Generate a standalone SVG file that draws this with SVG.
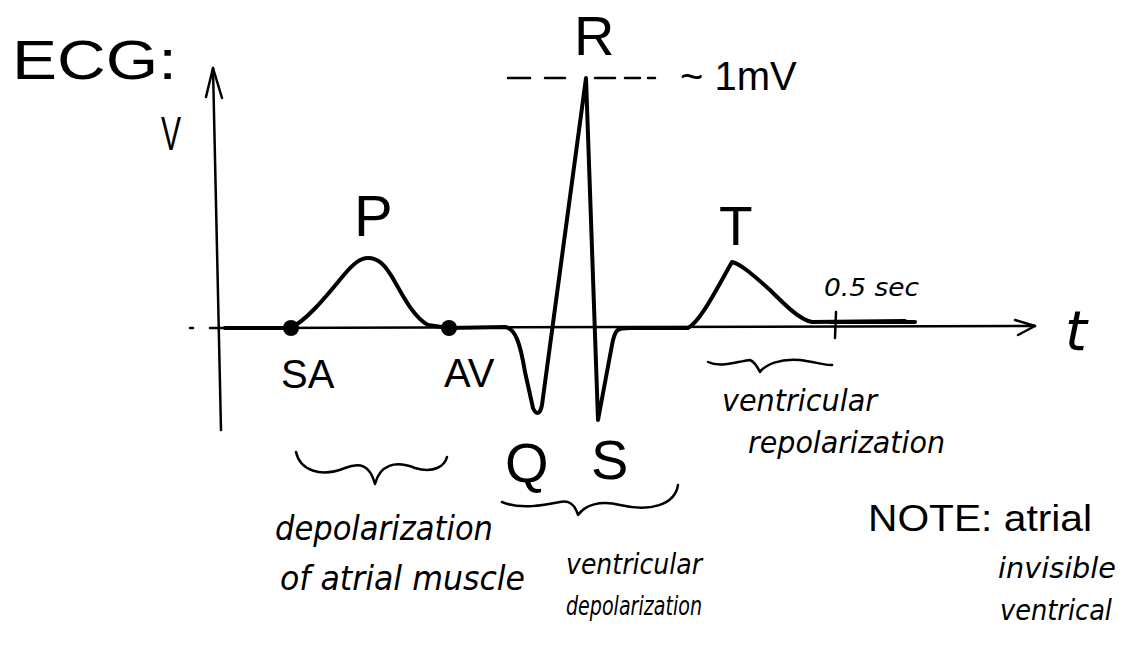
<svg xmlns="http://www.w3.org/2000/svg" width="1125" height="666" viewBox="0 0 1125 666">
<style>
.ax{fill:none;stroke:#000;stroke-width:2.5;stroke-linecap:round;stroke-linejoin:round}
.tr{fill:none;stroke:#000;stroke-width:4;stroke-linecap:round;stroke-linejoin:round}
.br{fill:none;stroke:#000;stroke-width:2.5;stroke-linecap:round;stroke-linejoin:round}
.lb{font-family:"Liberation Sans",Arial,sans-serif;fill:#000}
.cu{font-family:"DejaVu Sans","Liberation Sans",sans-serif;font-style:italic;fill:#000}
</style>
<rect width="1125" height="666" fill="#fff"/>
<g id="title"><text class="lb" x="12" y="79" font-size="56" textLength="165" lengthAdjust="spacingAndGlyphs">ECG:</text></g>
<g id="axes">
<path class="ax" d="M213,68 L221,430"/>
<path class="ax" d="M206,97 L213,68 L222,98"/>
<path class="ax" d="M190,328 L193,328"/>
<path class="ax" d="M210,328 L1035,326"/>
<path class="ax" d="M1015,320 L1035,326 L1018,335"/>
<text class="lb" x="161" y="150" font-size="48" textLength="20" lengthAdjust="spacingAndGlyphs">V</text>
<text class="cu" x="1065" y="350" font-size="56">t</text>
</g>
<g id="trace">
<path class="tr" d="M225,328 L290,328 C305,322 325,298 343,276 C353,264 360,258 368,258 C378,258 385,264 395,282 C405,300 415,318 428,325 L448,328 L505,327 C515,328 520,342 525,372 L533,408 C536,415 540,415 542,405 L586,78 L598,420 L612,345 C615,328 618,328 630,328 L688,328 C700,322 716,290 732,262 C740,264 750,272 770,290 C785,305 800,320 812,322 L905,321"/>
<path class="tr" d="M830,322 L915,322"/>
<circle cx="291" cy="328" r="8" fill="#000"/>
<circle cx="449" cy="328" r="8" fill="#000"/>
<path class="ax" d="M836,312 L835,338"/>
</g>
<g id="peakR">
<text class="lb" x="574" y="55" font-size="56">R</text>
<path class="ax" d="M508,78 L530,78 M545,78 L565,78 M595,78 L615,78 M625,78 L640,78 M648,78 L655,78" stroke-width="2"/>
<text class="lb" x="680" y="90" font-size="40">~ 1mV</text>
</g>
<g id="peakP"><text class="lb" x="354" y="236" font-size="58">P</text></g>
<g id="peakT"><text class="lb" x="719" y="245" font-size="55">T</text></g>
<g id="sec"><text class="cu" x="824" y="296" font-size="24" textLength="95" lengthAdjust="spacingAndGlyphs">0.5 sec</text></g>
<g id="SA"><text class="lb" x="281" y="388" font-size="40">SA</text></g>
<g id="AV"><text class="lb" x="444" y="387" font-size="40">AV</text></g>
<g id="Q"><text class="lb" x="505" y="482" font-size="56">Q</text></g>
<g id="S"><text class="lb" x="591" y="479" font-size="56">S</text></g>
<g id="braces">
<path class="br" d="M296,452 C300,470 320,478 345,468 C360,462 370,465 375,484 C380,465 395,460 415,468 C435,474 445,465 447,457"/>
<path class="br" d="M502,502 C520,510 545,505 560,502 C570,500 575,505 578,515 C585,505 600,500 620,505 C650,512 675,505 678,485"/>
<path class="br" d="M708,362 C720,368 735,362 750,360 C755,362 758,368 760,372 C765,365 780,358 800,360 C815,362 828,366 832,365"/>
</g>
<g id="labelAtrial">
<text class="cu" x="275" y="540" font-size="33" textLength="218" lengthAdjust="spacingAndGlyphs">depolarization</text>
<text class="cu" x="280" y="590" font-size="33" textLength="245" lengthAdjust="spacingAndGlyphs">of atrial muscle</text>
</g>
<g id="labelVentDep">
<text class="cu" x="566" y="574" font-size="28" textLength="136" lengthAdjust="spacingAndGlyphs">ventricular</text>
<text class="cu" x="566" y="615" font-size="26" textLength="136" lengthAdjust="spacingAndGlyphs">depolarization</text>
</g>
<g id="labelVentRep">
<text class="cu" x="722" y="411" font-size="30" textLength="155" lengthAdjust="spacingAndGlyphs">ventricular</text>
<text class="cu" x="748" y="453" font-size="30" textLength="197" lengthAdjust="spacingAndGlyphs">repolarization</text>
</g>
<g id="note">
<text class="lb" x="868" y="531" font-size="36" textLength="224" lengthAdjust="spacingAndGlyphs">NOTE:  atrial</text>
<text class="cu" x="998" y="578" font-size="29" textLength="118" lengthAdjust="spacingAndGlyphs">invisible</text>
<text class="cu" x="1000" y="620" font-size="29" textLength="112" lengthAdjust="spacingAndGlyphs">ventrical</text>
</g>
</svg>
